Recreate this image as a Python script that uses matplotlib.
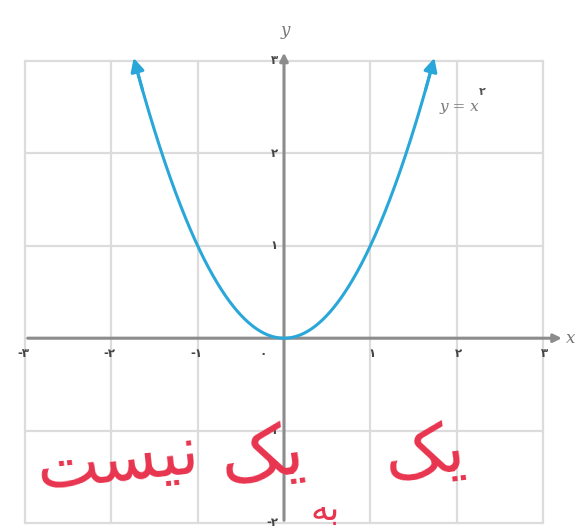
import numpy as np
import matplotlib
matplotlib.use("Agg")
import matplotlib.pyplot as plt

# Axis ranges, ticks and labels (Persian digits)
x_min, x_max = -3, 3
y_min, y_max = -2, 3
x_ticks = [-3, -2, -1, 0, 1, 2, 3]
x_tick_labels = ["-۳", "-۲", "-۱", "۰", "۱", "۲", "۳"]
y_ticks = [-2, -1, 1, 2, 3]
y_tick_labels = ["-۲", "-۱", "۱", "۲", "۳"]

# Curve y = x^2 drawn up to y = 3
curve_x_end = 1.75
curve_label = "y = x"
curve_label_exp = "۲"

# Handwritten note (Arabic presentation forms, visual order)
note_words = ["\uFB8F\uFBFE", "\uFEEA\uFE91", "\uFB8F\uFBFE", "\uFE96\uFEB4\uFBFF\uFEE7"]

blue = "#2aa7d9"
grid_c = "#dcdcdc"
axis_c = "#8c8c8c"
text_c = "#444444"
red = "#e8344f"

W, H = 579, 532
fig = plt.figure(figsize=(W / 100, H / 100), dpi=100)
fig.patch.set_facecolor("white")
left, right, top, bottom = 25, 543, 61, 523
ax = fig.add_axes([left / W, 1 - bottom / H, (right - left) / W, (bottom - top) / H])
ax.set_xlim(x_min, x_max)
ax.set_ylim(y_min, y_max)
for s in ax.spines.values():
    s.set_visible(False)
ax.set_xticks([])
ax.set_yticks([])

# Grid
for gx in range(x_min, x_max + 1):
    ax.plot([gx, gx], [y_min, y_max], color=grid_c, lw=1.6, zorder=1, clip_on=False)
for gy in range(y_min, y_max + 1):
    ax.plot([x_min, x_max], [gy, gy], color=grid_c, lw=1.6, zorder=1, clip_on=False)

# Axes with arrows
ax.annotate("", xy=(3.25, 0), xytext=(x_min, 0),
            arrowprops=dict(arrowstyle="-|>", color=axis_c, lw=2.2, mutation_scale=12),
            zorder=3, annotation_clip=False)
ax.annotate("", xy=(0, 3.12), xytext=(0, y_min),
            arrowprops=dict(arrowstyle="-|>", color=axis_c, lw=2.2, mutation_scale=12),
            zorder=3, annotation_clip=False)
ax.text(3.32, 0.0, "x", fontsize=12, family="DejaVu Serif", style="italic",
        color="#777777", ha="center", va="center", clip_on=False)
ax.text(0.02, 3.33, "y", fontsize=12, family="DejaVu Serif", style="italic",
        color="#777777", ha="center", va="center", clip_on=False)

# Tick labels
tick_kw = dict(fontsize=8.5, color=text_c, va="center", family="DejaVu Sans",
               fontweight="bold", clip_on=False)
for t, lab in zip(x_ticks, x_tick_labels):
    if t < 0:
        ax.text(t + 0.05, -0.17, lab, ha="right", **tick_kw)
    elif t == 0:
        ax.text(-0.24, -0.17, lab, ha="center", **tick_kw)
    else:
        ax.text(t + 0.02, -0.17, lab, ha="center", **tick_kw)
for t, lab in zip(y_ticks, y_tick_labels):
    ax.text(-0.07, t, lab, ha="right", **tick_kw)

# Parabola
xs = np.linspace(-curve_x_end, curve_x_end, 400)
ys = xs ** 2
ax.plot(xs[5:-5], ys[5:-5], color=blue, lw=2.2, zorder=4, solid_capstyle="round")
for sgn in (-1, 1):
    xe = sgn * curve_x_end
    xb = sgn * (curve_x_end - 0.12)
    ax.annotate("", xy=(xe, xe ** 2), xytext=(xb, xb ** 2),
                arrowprops=dict(arrowstyle="-|>", color=blue, lw=2.2, mutation_scale=20),
                zorder=5, annotation_clip=False)

# Curve label
ax.text(2.03, 2.5, curve_label, fontsize=11, family="DejaVu Serif", style="italic",
        color="#777777", ha="center", va="center")
ax.text(2.3, 2.66, curve_label_exp, fontsize=8, color="#555555", ha="center",
        va="center", family="DejaVu Sans", fontweight="bold")

# Handwritten note in red
positions = [(425, 455, 50, 8), (325, 510, 26, 0), (262, 458, 52, 8), (118, 462, 48, 6)]
for word, (px, py, fs, rot) in zip(note_words, positions):
    fig.text(px / W, 1 - py / H, word, fontsize=fs, color=red, ha="center", va="center",
             rotation=rot, family=["DejaVu Sans", "Noto Sans"])

fig.savefig("out.png", dpi=100)
